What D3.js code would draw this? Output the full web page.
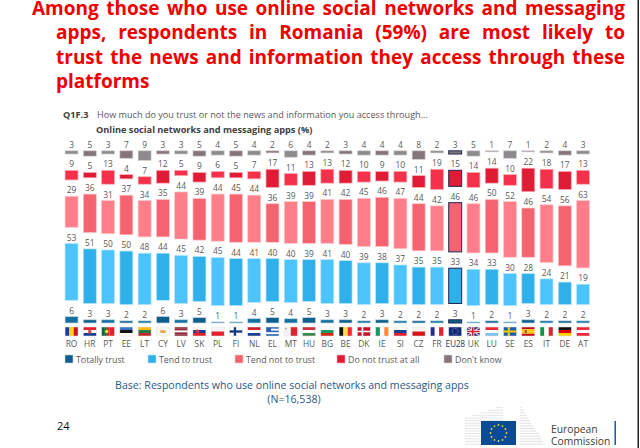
<!DOCTYPE html>
<html>
<head>
<meta charset="utf-8">
<script src="https://cdn.jsdelivr.net/npm/d3@7"></script>
<style>
html, body { margin: 0; background: #fff; }
svg { display: block; }
text { font-family: "Open Sans", sans-serif; }
</style>
</head>
<body>
<svg class="svg-canvas" width="640" height="448"></svg>
<script>
var countries = ["RO","HR","PT","EE","LT","CY","LV","SK","PL","FI","NL","EL","MT","HU","BG","BE","DK","IE","SI","CZ","FR","EU28","UK","LU","SE","ES","IT","DE","AT"];
var totallyTrust = [6,3,3,2,2,6,3,5,1,1,4,5,4,5,3,3,2,3,2,2,2,3,1,2,1,3,2,2,2];
var tendToTrust = [53,51,50,50,48,44,45,42,45,44,41,40,40,39,41,40,39,38,37,35,35,33,34,33,30,28,24,21,19];
var tendNotToTrust = [29,36,31,37,34,35,44,39,44,45,44,36,39,39,41,42,45,46,47,44,42,46,46,50,52,46,54,56,63];
var doNotTrust = [9,5,13,4,7,12,5,9,6,5,7,17,11,13,13,12,10,9,10,11,19,15,14,14,10,22,18,17,13];
var dontKnow = [3,5,3,7,9,3,3,5,4,5,4,2,6,4,2,3,4,4,4,8,2,3,5,1,7,1,2,4,3];

var seriesNames = ["Totally trust","Tend to trust","Tend not to trust","Do not trust at all","Don't know"];
var seriesValues = [totallyTrust, tendToTrust, tendNotToTrust, doNotTrust, dontKnow];
var lightColors = ["#14709f","#4cc3fb","#ff7e8a","#f4304a","#8c8a8c"];
var darkColors = ["#0f5f8c","#2fb0ea","#f4636f","#e01b36","#84757b"];
var edgeColors = ["#bcd6e4","#b5e6fb","#ffc6cb","#fbb0ba","#d5d0d2"];

var titleLines = [
  "Among those who use online social networks and messaging",
  "apps, respondents in Romania (59%) are most likely to",
  "trust the news and information they access through these",
  "platforms"
];

// h = horizontal stripes, v = vertical stripes
var flags = {
  RO: ["v","#1b3f95","#fcd116","#ce1126"], HR: ["h","#e4202c","#fff","#1b3f95"], PT: ["v","#0a6a30","#0a6a30","#e4202c","#e4202c","#e4202c"],
  EE: ["h","#3a75c4","#111","#fff"], LT: ["h","#fdb913","#2a7a45","#c1272d"], CY: ["h","#f6f6f0"],
  LV: ["h","#8f2a3a","#8f2a3a","#fff","#8f2a3a","#8f2a3a"], SK: ["h","#fff","#1b3f95","#e4202c"], PL: ["h","#f4f4f4","#e4202c"],
  FI: ["h","#fff"], NL: ["h","#d0202c","#fff","#1b3f95"], EL: ["h","#2a5fb0","#fff","#2a5fb0","#fff","#2a5fb0"],
  MT: ["v","#f4f4f4","#e4202c"], HU: ["h","#d0303c","#fff","#3c8a50"], BG: ["h","#fff","#1f9a60","#d62612"],
  BE: ["v","#111","#fae042","#ed2939"], DK: ["h","#c8102e"], IE: ["v","#169b62","#fff","#ff883e"],
  SI: ["h","#fff","#1b3f95","#e4202c"], CZ: ["h","#f4f4f4","#d7141a"], FR: ["v","#1b2f8f","#fff","#e4202c"],
  EU28: ["h","#0c2a80"], UK: ["h","#1b2f80"], LU: ["h","#ed2939","#fff","#7fc4ee"],
  SE: ["h","#1a5fa8"], ES: ["h","#c60b1e","#ffc400","#ffc400","#c60b1e"], IT: ["v","#119246","#fff","#ce2b37"],
  DE: ["h","#111","#dd0000","#ffce00"], AT: ["h","#ed2939","#fff","#ed2939"]
};

var svg = d3.select(".svg-canvas");
var gap = 16.3;

var x = d3.scaleBand()
  .domain(countries)
  .range([62.4, 592.2])
  .paddingInner(0.29)
  .paddingOuter(0.145);

var y = d3.scaleLinear().domain([0, 100]).range([323, 216]);

var rows = countries.map(function(c, i) {
  var row = { country: c };
  seriesNames.forEach(function(s, j) { row[s] = seriesValues[j][i]; });
  return row;
});
var stacked = d3.stack().keys(seriesNames)(rows);

// title, justified by placing each word in its own tspan
var titleRight = 625;
var titleSel = svg.selectAll(".title-line")
  .data(titleLines).enter()
  .append("text")
  .attr("class", "title-line")
  .attr("y", function(d, i) { return 14.8 + i * 24.5; })
  .attr("fill", "#ee0000")
  .attr("font-size", 19)
  .attr("font-weight", 700);
titleSel.each(function(d, i) {
  var left = i == 0 ? 32 : 56;
  var words = d.split(" ");
  var spans = d3.select(this).selectAll("tspan")
    .data(words).enter()
    .append("tspan")
    .text(function(w, k) { return k < words.length - 1 ? w + " " : w; });
  var widths = [];
  spans.each(function() { widths.push(this.getComputedTextLength()); });
  var free = titleRight - left - d3.sum(widths);
  var extra = i == 3 ? 0 : free / (words.length - 1);
  var pos = left;
  spans.attr("x", function(w, k) {
    var at = pos;
    pos += widths[k] + extra;
    return at;
  });
});

svg.append("text").attr("x", 63).attr("y", 118).attr("font-size", 9.2).attr("font-weight", 700).attr("fill", "#404040").text("Q1F.3");
svg.append("text").attr("x", 97).attr("y", 118).attr("font-size", 9.1).attr("fill", "#595959")
  .text("How much do you trust or not the news and information you access through...");
svg.append("text").attr("x", 96).attr("y", 133).attr("font-size", 9.2).attr("font-weight", 700).attr("fill", "#404040")
  .text("Online social networks and messaging apps (%)");

// bars, one gap is added per step up the stack
var layers = svg.selectAll(".layer")
  .data(stacked).enter()
  .append("g")
  .attr("class", "layer");

layers.selectAll("rect")
  .data(function(d) { return d.map(function(p) { return { p: p, s: d.index }; }); }).enter()
  .append("rect")
  .attr("x", function(d) { return x(d.p.data.country); })
  .attr("width", x.bandwidth())
  .attr("y", function(d) { return y(d.p[1]) - gap * d.s; })
  .attr("height", function(d) { return y(d.p[0]) - y(d.p[1]); })
  .attr("fill", function(d, i) { return i % 2 ? darkColors[d.s] : lightColors[d.s]; })
  .attr("stroke", function(d) { return d.p.data.country == "EU28" ? "#1d2a55" : edgeColors[d.s]; })
  .attr("stroke-width", function(d) { return d.p.data.country == "EU28" ? 1 : 0.7; });

layers.selectAll("text")
  .data(function(d) { return d.map(function(p) { return { p: p, s: d.index }; }); }).enter()
  .append("text")
  .attr("x", function(d) { return x(d.p.data.country) + x.bandwidth() / 2; })
  .attr("y", function(d) { return y(d.p[1]) - gap * d.s - 3; })
  .attr("text-anchor", "middle")
  .attr("font-size", 8.4)
  .attr("fill", "#595959")
  .text(function(d) { return d.p[1] - d.p[0]; });

// flags
var flagTop = 327, flagH = 9;
var flagG = svg.selectAll(".flag")
  .data(countries).enter()
  .append("g")
  .attr("class", "flag")
  .attr("transform", function(d) { return "translate(" + x(d) + "," + flagTop + ")"; });

flagG.each(function(c) {
  var g = d3.select(this), spec = flags[c], w = x.bandwidth();
  var cols = spec.slice(1), n = cols.length;
  g.selectAll("rect.stripe")
    .data(cols).enter()
    .append("rect")
    .attr("class", "stripe")
    .attr("x", function(d, i) { return spec[0] == "v" ? i * w / n : 0; })
    .attr("y", function(d, i) { return spec[0] == "h" ? i * flagH / n : 0; })
    .attr("width", spec[0] == "v" ? w / n : w)
    .attr("height", spec[0] == "h" ? flagH / n : flagH)
    .attr("fill", function(d) { return d; });
  function cross(col, wide) {
    g.append("rect").attr("x", w * 0.33).attr("y", 0).attr("width", wide).attr("height", flagH).attr("fill", col);
    g.append("rect").attr("x", 0).attr("y", (flagH - wide) / 2).attr("width", w).attr("height", wide).attr("fill", col);
  }
  if (c == "FI") cross("#16397f", 2.4);
  if (c == "SE") cross("#fecc00", 2);
  if (c == "DK") cross("#fff", 1.6);
  if (c == "CY") g.append("ellipse").attr("cx", w / 2).attr("cy", flagH / 2).attr("rx", 3).attr("ry", 1.5).attr("fill", "#e0a95a");
  if (c == "EL") g.append("rect").attr("width", 5).attr("height", 5).attr("fill", "#2a5fb0");
  if (c == "PT") g.append("circle").attr("cx", w * 0.4).attr("cy", flagH / 2).attr("r", 1.8).attr("fill", "#f5d742");
  if (c == "HR") g.append("rect").attr("x", w / 2 - 1.6).attr("y", 2.5).attr("width", 3.2).attr("height", 4).attr("fill", "#c8505a");
  if (c == "SK") g.append("circle").attr("cx", w * 0.35).attr("cy", flagH / 2).attr("r", 2).attr("fill", "#d03040");
  if (c == "MT") g.append("rect").attr("x", 1).attr("y", 1).attr("width", 1.5).attr("height", 1.5).attr("fill", "#aaa");
  if (c == "ES") g.append("rect").attr("x", 3).attr("y", 3).attr("width", 2).attr("height", 3).attr("fill", "#a8502a");
  if (c == "UK") {
    g.append("path").attr("d", "M0,0L" + w + "," + flagH + "M" + w + ",0L0," + flagH).attr("stroke", "#e8c8d0").attr("stroke-width", 1.5);
    cross("#fff", 3);
    g.append("rect").attr("x", w * 0.33 + 0.7).attr("width", 1.6).attr("height", flagH).attr("fill", "#d0202c");
    g.append("rect").attr("y", flagH / 2 - 0.8).attr("width", w).attr("height", 1.6).attr("fill", "#d0202c");
  }
  if (c == "EU28") {
    g.selectAll("circle").data(d3.range(12)).enter().append("circle")
      .attr("cx", function(d) { return w / 2 + 3 * Math.cos(d * Math.PI / 6); })
      .attr("cy", function(d) { return flagH / 2 + 3 * Math.sin(d * Math.PI / 6); })
      .attr("r", 0.4).attr("fill", "#e8d040");
  }
  g.append("rect").attr("width", w).attr("height", flagH).attr("fill", "none").attr("stroke", "#e2e2e2").attr("stroke-width", 0.5);
});

// country codes
svg.selectAll(".code")
  .data(countries).enter()
  .append("text")
  .attr("class", "code")
  .attr("x", function(d) { return x(d) + x.bandwidth() / 2; })
  .attr("y", 347)
  .attr("text-anchor", "middle")
  .attr("font-size", 8.4)
  .attr("letter-spacing", function(d) { return d == "EU28" ? -0.3 : 0; })
  .attr("fill", function(d) { return d == "EU28" ? "#1f3864" : "#595959"; })
  .text(function(d) { return d; });

// legend
var legendX = [65, 148, 235, 337, 444];
var legend = svg.selectAll(".legend")
  .data(seriesNames).enter()
  .append("g")
  .attr("class", "legend")
  .attr("transform", function(d, i) { return "translate(" + legendX[i] + ",355)"; });
legend.append("rect")
  .attr("width", 8).attr("height", 8)
  .attr("fill", function(d, i) { return darkColors[i]; })
  .attr("stroke", function(d, i) { return edgeColors[i]; })
  .attr("stroke-width", 0.6);
legend.append("text")
  .attr("x", 11).attr("y", 7.5)
  .attr("font-size", 8.8)
  .attr("fill", "#595959")
  .text(function(d) { return d; });

// base note
svg.append("text").attr("x", 292).attr("y", 388.5).attr("text-anchor", "middle").attr("font-size", 10.6).attr("fill", "#1f5a8c")
  .text("Base: Respondents who use online social networks and messaging apps");
svg.append("text").attr("x", 294).attr("y", 402.5).attr("text-anchor", "middle").attr("font-size", 10.6).attr("fill", "#1f5a8c")
  .text("(N=16,538)");
svg.append("text").attr("x", 57).attr("y", 430).attr("font-size", 11).attr("fill", "#111").text("24");

// European Commission logo
var logo = svg.append("g");
logo.selectAll(".beam-left")
  .data(d3.range(405, 446, 2.6)).enter()
  .append("line")
  .attr("x1", function(d) { return d < 418 ? 465 + (418 - d) * 38 / 13 : 465; })
  .attr("x2", function(d) { return d < 421 ? 503 : 481; })
  .attr("y1", function(d) { return d; })
  .attr("y2", function(d) { return d; })
  .attr("stroke", "#dedede").attr("stroke-width", 0.8);
logo.selectAll(".beam-right")
  .data(d3.range(405, 446, 2.6)).enter()
  .append("line")
  .attr("x1", 520)
  .attr("x2", function(d) { return 520 + (d - 405) * 0.63; })
  .attr("y1", function(d) { return d; })
  .attr("y2", function(d) { return d; })
  .attr("stroke", "#d8d8d8").attr("stroke-width", 0.8);
logo.append("rect").attr("x", 481).attr("y", 421).attr("width", 35).attr("height", 24).attr("fill", "#0b4a94");
logo.selectAll(".star")
  .data(d3.range(12)).enter()
  .append("circle")
  .attr("cx", function(d) { return 498.5 + 8 * Math.cos(d * Math.PI / 6); })
  .attr("cy", function(d) { return 433 + 8 * Math.sin(d * Math.PI / 6); })
  .attr("r", 0.9)
  .attr("fill", "#f2d640");
logo.append("text").attr("x", 551).attr("y", 432.5).attr("font-size", 10.3).attr("font-family", "Liberation Sans").attr("fill", "#404040").text("European");
logo.append("text").attr("x", 551).attr("y", 444.5).attr("font-size", 10.3).attr("font-family", "Liberation Sans").attr("fill", "#404040").text("Commission");
logo.append("rect").attr("x", 614.5).attr("y", 421).attr("width", 1.4).attr("height", 24).attr("fill", "#0b4a94");

svg.append("rect").attr("x", 637.5).attr("y", 0).attr("width", 1.5).attr("height", 448).attr("fill", "#222");
</script>
</body>
</html>
